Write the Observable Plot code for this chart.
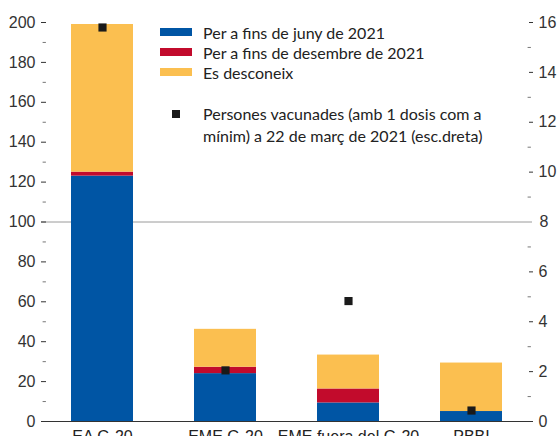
<!DOCTYPE html>
<html><head><meta charset="utf-8">
<script src="https://cdn.jsdelivr.net/npm/d3@7"></script>
<script src="https://cdn.jsdelivr.net/npm/@observablehq/plot@0.6"></script>
<style>
body{margin:0;background:#fff;}
#wrap{position:relative;width:557px;height:436px;overflow:hidden;}
.lg{position:absolute;font-family:Lato,"Open Sans",sans-serif;font-size:16px;color:#222;white-space:nowrap;}
.row{display:flex;align-items:center;height:20px;}
.sw{width:32px;height:8px;margin-right:11px;}
.pt{position:absolute;left:12px;top:8px;width:8px;height:8px;background:#1a1a1a;}
</style></head><body>
<div id="wrap"><div id="chart"></div><div id="legend"></div></div>
<script>
const categories = ["EA G-20", "EME G-20", "EME fuera del G-20", "PBBI"];
const seriesNames = ["Per a fins de juny de 2021", "Per a fins de desembre de 2021", "Es desconeix"];
const seriesColors = ["#0055a4", "#c20b2c", "#fbbf50"];
const juny = [123, 24, 9.3, 5];
const desembre = [2, 3.2, 7, 0];
const desconeix = [74, 19, 17, 24.3];
const vacunades = [15.8, 2.05, 4.83, 0.44];
const pointLabel = ["Persones vacunades (amb 1 dosis com a", "mínim) a 22 de març de 2021 (esc.dreta)"];
const leftTicks = [0, 20, 40, 60, 80, 100, 120, 140, 160, 180, 200];
const leftMinor = [10, 30, 50, 70, 90, 110, 130, 150, 170, 190];
const rightTicks = [0, 2, 4, 6, 8, 10, 12, 14, 16];
const rightMinor = [1, 3, 5, 7, 9, 11, 13, 15];
const ratio = 200 / 16;

const seriesVals = [juny, desembre, desconeix];
const data = categories.flatMap((c, i) => seriesNames.map((s, k) => ({cat: c, serie: s, v: seriesVals[k][i]})));
const pts = categories.map((c, i) => ({cat: c, v: vacunades[i]}));
const tickShape = {draw(context, l) { context.moveTo(0, 0); context.lineTo(0, -l); }};

const font = "'Liberation Sans','Arial',sans-serif";
const chart = Plot.plot({
  width: 557, height: 460,
  marginLeft: 41, marginRight: 25, marginTop: 22, marginBottom: 39,
  style: {fontFamily: font, fontSize: "16px", color: "#222", background: "transparent"},
  x: {domain: categories, paddingInner: 0.494, paddingOuter: 0.235, label: null},
  y: {domain: [0, 200], label: null},
  color: {domain: seriesNames, range: seriesColors},
  marks: [
    Plot.ruleY([100], {stroke: "#9a9a9a", strokeWidth: 1}),
    Plot.barY(data, {x: "cat", y: "v", fill: "serie", order: seriesNames}),
    Plot.ruleY([0], {stroke: "#333", strokeWidth: 1.2}),
    Plot.dot(pts, {x: "cat", y: d => d.v * ratio, symbol: "square", r: 4.6, fill: "#1a1a1a", stroke: null}),
    Plot.axisY(leftTicks, {anchor: "left", tickSize: 5, tickPadding: 6, dx: 5, color: "#333", label: null}),
    Plot.vector(leftMinor, {y: d => d, frameAnchor: "left", rotate: 90, anchor: "start", length: 2.5, dx: 1.5, shape: tickShape, stroke: "#777", strokeWidth: 1}),
    Plot.axisY(rightTicks.filter(t => t !== 8).map(t => t * ratio), {anchor: "right", tickSize: 4, tickPadding: 6, dx: -4, color: "#333", tickFormat: d => d / ratio, label: null}),
    Plot.axisY([8 * ratio], {anchor: "right", tickSize: 0, tickPadding: 7, color: "#333", tickFormat: d => d / ratio, label: null}),
    Plot.vector(rightMinor.map(t => t * ratio), {y: d => d, frameAnchor: "right", rotate: -90, anchor: "start", length: 2.5, dx: -2, shape: tickShape, stroke: "#777", strokeWidth: 1}),
    Plot.axisX({tickSize: 0, tickPadding: 9, color: "#222", label: null})
  ]
});
document.getElementById("chart").appendChild(chart);

const lg = document.getElementById("legend");
seriesNames.forEach((s, k) => {
  const d = document.createElement("div");
  d.className = "lg row";
  d.style.left = "160px";
  d.style.top = (22 + 20 * k) + "px";
  d.innerHTML = `<div class="sw" style="background:${seriesColors[k]}"></div><span>${s}</span>`;
  lg.appendChild(d);
});
const p = document.createElement("div");
p.className = "lg";
p.style.left = "160px"; p.style.top = "103px"; p.style.lineHeight = "22px";
p.innerHTML = `<div class="pt" style="top:7px"></div><div style="margin-left:43px">${pointLabel.join("<br>")}</div>`;
lg.appendChild(p);
</script></body></html>
